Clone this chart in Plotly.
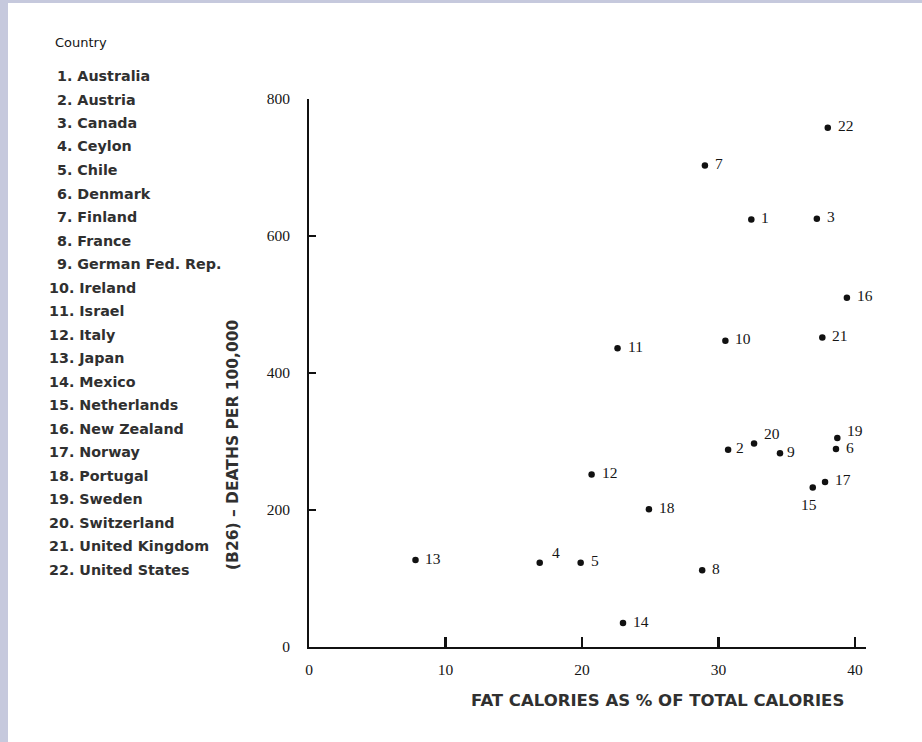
import plotly.graph_objects as go

countries = ["Australia", "Austria", "Canada", "Ceylon", "Chile", "Denmark",
             "Finland", "France", "German Fed. Rep.", "Ireland", "Israel", "Italy",
             "Japan", "Mexico", "Netherlands", "New Zealand", "Norway", "Portugal",
             "Sweden", "Switzerland", "United Kingdom", "United States"]
fat_pct = [32.4, 30.7, 37.2, 16.9, 19.9, 38.6, 29.0, 28.8, 34.5, 30.5, 22.6,
           20.7, 7.8, 23.0, 36.9, 39.4, 37.8, 24.9, 38.7, 32.6, 37.6, 38.0]
deaths = [624, 288, 625, 123, 123, 289, 703, 112, 283, 447, 436, 252, 127,
          35, 233, 510, 241, 201, 305, 297, 452, 758]
x_ticks = [0, 10, 20, 30, 40]
y_ticks = [0, 200, 400, 600, 800]

W, H = 922, 742
L, R, T, B = 309, 56, 99, 95
PW, PH = W - L - R, H - T - B

def px(X):
    return (X - L) / PW

def py(Y):
    return (H - B - Y) / PH

SERIF = "Liberation Serif"
SANS = "DejaVu Sans"
INK = "#151515"
SOFT = "#303030"

fig = go.Figure()
fig.add_trace(go.Scatter(
    x=fat_pct, y=deaths, mode="markers",
    marker=dict(size=6.5, color="#111111"),
    hoverinfo="skip", showlegend=False,
))

# label offsets (styling only)
offsets = {4: (10, 10), 15: (-14, -17), 19: (8, 8), 20: (8, 10), 2: (6, 2), 9: (5, 2)}

annotations = []
for i, (xv, yv) in enumerate(zip(fat_pct, deaths), start=1):
    dx, dy = offsets.get(i, (8, 2))
    annotations.append(dict(
        x=xv, y=yv, xref="x", yref="y", text=str(i), showarrow=False,
        xanchor="left", yanchor="middle", xshift=dx, yshift=dy,
        font=dict(family=SERIF, size=15.5, color=INK),
    ))

# country key
annotations.append(dict(x=px(53), y=py(42), xref="paper", yref="paper",
                        text="Country", showarrow=False, xanchor="left",
                        yanchor="middle",
                        font=dict(family=SANS, size=13, color=INK)))
for i, name in enumerate(countries, start=1):
    xl = 55 if i < 10 else 47
    annotations.append(dict(
        x=px(xl), y=py(76 + (i - 1) * 23.5), xref="paper", yref="paper",
        text=f"{i}. {name}", showarrow=False, xanchor="left", yanchor="middle",
        font=dict(family=SANS, size=14.3, color=SOFT, weight="bold"),
    ))

# axis titles
annotations.append(dict(x=px(233), y=py(445), xref="paper", yref="paper",
                        text="(B26) – DEATHS PER 100,000", textangle=-90,
                        showarrow=False, xanchor="center", yanchor="middle",
                        font=dict(family=SANS, size=15.5, color=SOFT, weight="bold")))
annotations.append(dict(x=px(657), y=py(700), xref="paper", yref="paper",
                        text="FAT CALORIES AS % OF TOTAL CALORIES",
                        showarrow=False, xanchor="center", yanchor="middle",
                        font=dict(family=SANS, size=16.5, color=SOFT, weight="bold")))

fig.update_layout(
    width=W, height=H,
    margin=dict(l=L, r=R, t=T, b=B, pad=0),
    paper_bgcolor="#c6c9dd",
    plot_bgcolor="rgba(0,0,0,0)",
    showlegend=False,
    annotations=annotations,
    shapes=[dict(type="rect", xref="paper", yref="paper",
                 x0=px(8), x1=px(W + 5), y0=py(H + 5), y1=py(3),
                 fillcolor="white", line=dict(width=0), layer="below")],
    xaxis=dict(range=[0, 40.8], tickvals=x_ticks, ticktext=[str(v) for v in x_ticks],
               showline=True, linecolor="#111111", linewidth=1.8,
               ticks="inside", ticklen=10, tickwidth=2.2, tickcolor="#111111",
               showgrid=False, zeroline=False, ticklabelstandoff=8,
               tickfont=dict(family=SERIF, size=15.5, color=INK), fixedrange=True),
    yaxis=dict(range=[0, 800], tickvals=y_ticks, ticktext=[str(v) for v in y_ticks],
               showline=True, linecolor="#111111", linewidth=1.8,
               ticks="inside", ticklen=7, tickwidth=1.5, tickcolor="#111111",
               showgrid=False, zeroline=False, ticklabelstandoff=14,
               tickfont=dict(family=SERIF, size=15.5, color=INK), fixedrange=True),
)

fig.write_html(
    "out.html",
    config={"displayModeBar": False, "staticPlot": True},
    post_script="document.body.style.margin='0';document.body.style.overflow='hidden';",
)
